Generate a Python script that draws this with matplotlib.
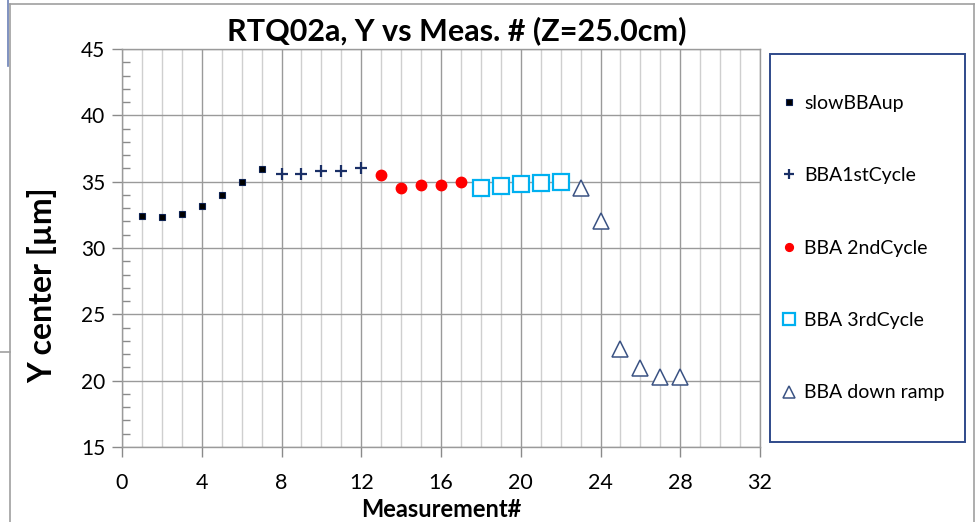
import matplotlib.pyplot as plt
from matplotlib.lines import Line2D
from matplotlib.patches import Rectangle
from matplotlib.ticker import MultipleLocator

plt.rcParams['font.family'] = ['Lato', 'DejaVu Sans']

# measurement number / Y centre per run segment
slow_x = [1, 2, 3, 4, 5, 6, 7]
slow_y = [32.4, 32.3, 32.6, 33.15, 34.0, 35.0, 35.95]
c1_x = [8, 9, 10, 11, 12]
c1_y = [35.6, 35.6, 35.8, 35.8, 36.0]
c2_x = [13, 14, 15, 16, 17]
c2_y = [35.5, 34.5, 34.75, 34.75, 34.95]
c3_x = [18, 19, 20, 21, 22]
c3_y = [34.5, 34.7, 34.8, 34.9, 35.0]
down_x = [23, 24, 25, 26, 27, 28]
down_y = [34.55, 32.0, 22.35, 20.95, 20.3, 20.3]

W, H = 976, 522
fig = plt.figure(figsize=(W / 100, H / 100), dpi=100)
ax = fig.add_axes([122 / W, 1 - 447 / H, (760 - 122) / W, (447 - 49) / H])

ax.plot(slow_x, slow_y, 's', ms=5, mfc='black', mec='#0d2150', mew=0.8, label='slowBBAup')
ax.plot(c1_x, c1_y, '+', ms=9, mec='#1a2f66', mew=1.6, label='BBA1stCycle')
ax.plot(c2_x, c2_y, 'o', ms=7.5, mfc='#ff0000', mec='#ff0000', label='BBA 2ndCycle')
ax.plot(c3_x, c3_y, 's', ms=11, mfc='white', mec='#00b0f0', mew=1.6, label='BBA 3rdCycle')
ax.plot(down_x, down_y, '^', ms=11.5, mfc='white', mec='#3a5283', mew=1.1, label='BBA down ramp')

ax.set_xlim(0, 32)
ax.set_ylim(15, 45)
ax.xaxis.set_major_locator(MultipleLocator(4))
ax.xaxis.set_minor_locator(MultipleLocator(1))
ax.yaxis.set_major_locator(MultipleLocator(5))
ax.yaxis.set_minor_locator(MultipleLocator(1))

ax.grid(True, which='major', axis='both', color='#9a9a9a', lw=1.0, zorder=0)
ax.grid(True, which='minor', axis='x', color='#cfcfcf', lw=1.0, zorder=0)
ax.set_axisbelow(True)
for s in ax.spines.values():
    s.set_color('#9a9a9a')
    s.set_linewidth(1.0)

ax.tick_params(axis='both', which='major', direction='out', length=7, width=1,
               color='#8a8a8a', labelsize=15, pad=5)
ax.tick_params(axis='x', which='major', pad=12, labelsize=15.5)
ax.tick_params(axis='x', which='minor', length=0)
ax.tick_params(axis='y', which='minor', direction='in', length=6, width=1, color='#8a8a8a')

ax.set_xlabel('Measurement#', fontsize=17, fontweight='bold')
ax.xaxis.set_label_coords(0.5, (447 - 498) / 398)
ax.set_ylabel('Y center [µm]', fontsize=23, fontweight='bold')
ax.yaxis.set_label_coords((57 - 122) / 638, (447 - 285) / 398)
fig.text(457 / W, 1 - 40 / H, 'RTQ02a, Y vs Meas. # (Z=25.0cm)', ha='center',
         va='baseline', fontsize=22, fontweight='bold')

# legend box on the right
fig.add_artist(Rectangle((770 / W, 1 - 442 / H), 195 / W, 388 / H, transform=fig.transFigure,
                         fill=False, edgecolor='#2f4a8a', lw=1.4))
handles, labels = ax.get_legend_handles_labels()
fig.legend(handles, labels, loc='center left', bbox_to_anchor=(781 / W, 1 - 248 / H),
           frameon=False, fontsize=14, labelspacing=2.85, handlelength=0.8,
           handletextpad=0.4, borderpad=0, borderaxespad=0, markerscale=0.75)

# outer chart frame
frame = dict(transform=fig.transFigure, color='#a0a0a0', lw=1.2)
fig.add_artist(Line2D([10 / W, 974 / W], [1 - 4 / H, 1 - 4 / H], **frame))
fig.add_artist(Line2D([10 / W, 10 / W], [0, 1 - 4 / H], **frame))
fig.add_artist(Line2D([974 / W, 974 / W], [0, 1 - 4 / H], **frame))
fig.add_artist(Line2D([0, 10 / W], [1 - 352 / H, 1 - 352 / H], **frame))
fig.add_artist(Line2D([8 / W, 8 / W], [1 - 66 / H, 1], transform=fig.transFigure,
                      color='#6a7fb5', lw=1.2))

fig.savefig('out.png', dpi=100)
